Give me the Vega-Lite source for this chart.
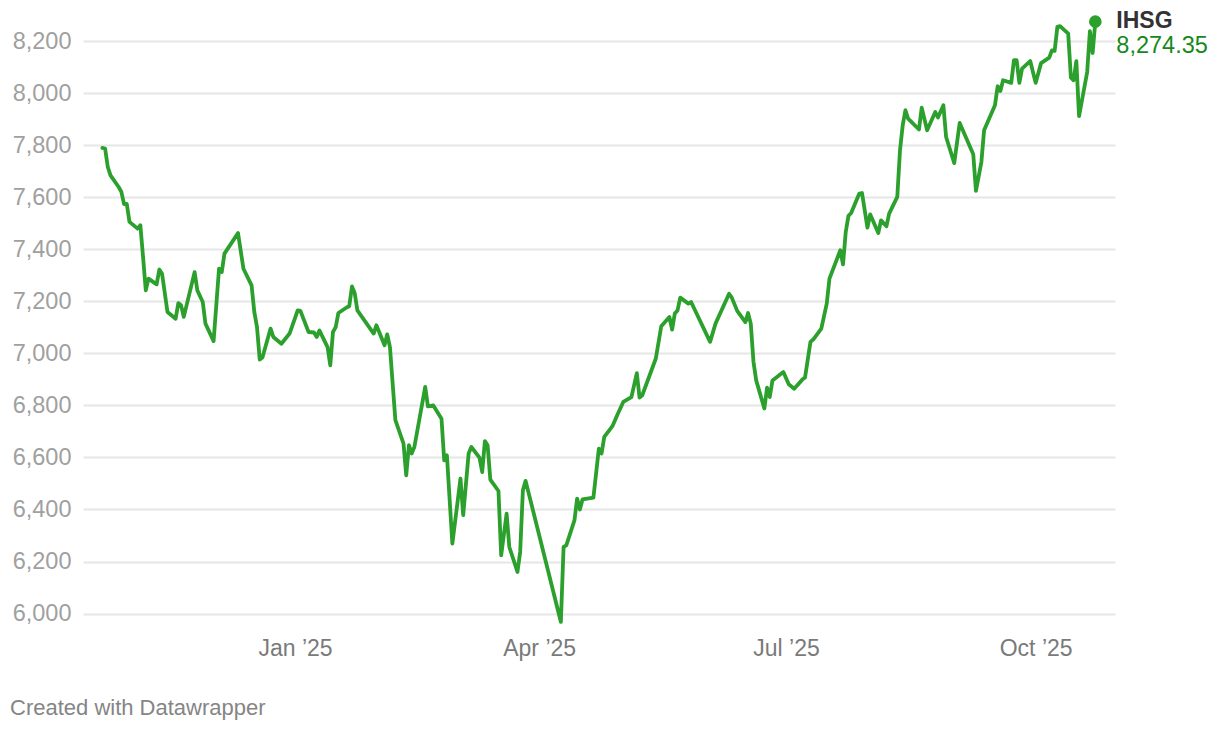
{
  "$schema": "https://vega.github.io/schema/vega-lite/v6.json",
  "autosize": "none",
  "width": 1032,
  "height": 572.6,
  "padding": {"left": 83, "top": 41, "right": 105, "bottom": 116.4},
  "background": "white",
  "config": {"view": {"stroke": null}, "font": "Liberation Sans"},
  "title": {"text": "Created with Datawrapper", "orient": "bottom", "anchor": "start", "frame": "group", "dx": -73, "offset": 54, "fontSize": 22, "fontWeight": "normal", "color": "#858585", "font": "Liberation Sans", "baseline": "alphabetic"},
  "datasets": {
    "ihsg": [
      {"date":"2024-10-22","value":7789},{"date":"2024-10-23","value":7787},{"date":"2024-10-24","value":7716},{"date":"2024-10-25","value":7684},{"date":"2024-10-28","value":7639},{"date":"2024-10-29","value":7620},{"date":"2024-10-30","value":7573},{"date":"2024-10-31","value":7574},{"date":"2024-11-01","value":7505},{"date":"2024-11-04","value":7479},{"date":"2024-11-05","value":7492},{"date":"2024-11-06","value":7370},{"date":"2024-11-07","value":7242},{"date":"2024-11-08","value":7287},{"date":"2024-11-11","value":7265},{"date":"2024-11-12","value":7322},{"date":"2024-11-13","value":7306},{"date":"2024-11-15","value":7159},{"date":"2024-11-18","value":7133},{"date":"2024-11-19","value":7193},{"date":"2024-11-20","value":7185},{"date":"2024-11-21","value":7140},{"date":"2024-11-25","value":7312},{"date":"2024-11-26","value":7242},{"date":"2024-11-28","value":7197},{"date":"2024-11-29","value":7114},{"date":"2024-12-02","value":7047},{"date":"2024-12-04","value":7325},{"date":"2024-12-05","value":7312},{"date":"2024-12-06","value":7383},{"date":"2024-12-11","value":7462},{"date":"2024-12-13","value":7325},{"date":"2024-12-16","value":7261},{"date":"2024-12-17","value":7159},{"date":"2024-12-18","value":7101},{"date":"2024-12-19","value":6976},{"date":"2024-12-20","value":6984},{"date":"2024-12-23","value":7095},{"date":"2024-12-24","value":7063},{"date":"2024-12-27","value":7037},{"date":"2024-12-30","value":7076},
      {"date":"2025-01-02","value":7165},{"date":"2025-01-03","value":7163},{"date":"2025-01-06","value":7082},{"date":"2025-01-08","value":7080},{"date":"2025-01-09","value":7063},{"date":"2025-01-10","value":7088},{"date":"2025-01-13","value":7024},{"date":"2025-01-14","value":6954},{"date":"2025-01-15","value":7082},{"date":"2025-01-16","value":7101},{"date":"2025-01-17","value":7155},{"date":"2025-01-20","value":7176},{"date":"2025-01-21","value":7181},{"date":"2025-01-22","value":7257},{"date":"2025-01-23","value":7232},{"date":"2025-01-24","value":7165},{"date":"2025-01-30","value":7076},{"date":"2025-01-31","value":7108},{"date":"2025-02-03","value":7031},{"date":"2025-02-04","value":7073},{"date":"2025-02-05","value":7024},{"date":"2025-02-07","value":6743},{"date":"2025-02-10","value":6653},{"date":"2025-02-11","value":6531},{"date":"2025-02-12","value":6647},{"date":"2025-02-13","value":6615},{"date":"2025-02-14","value":6640},{"date":"2025-02-18","value":6871},{"date":"2025-02-19","value":6796},{"date":"2025-02-21","value":6800},{"date":"2025-02-24","value":6749},{"date":"2025-02-25","value":6589},{"date":"2025-02-26","value":6608},{"date":"2025-02-28","value":6269},
      {"date":"2025-03-03","value":6519},{"date":"2025-03-04","value":6378},{"date":"2025-03-06","value":6615},{"date":"2025-03-07","value":6640},{"date":"2025-03-10","value":6599},{"date":"2025-03-11","value":6544},{"date":"2025-03-12","value":6663},{"date":"2025-03-13","value":6647},{"date":"2025-03-14","value":6515},{"date":"2025-03-17","value":6471},{"date":"2025-03-18","value":6224},{"date":"2025-03-20","value":6384},{"date":"2025-03-21","value":6256},{"date":"2025-03-24","value":6160},{"date":"2025-03-25","value":6237},{"date":"2025-03-26","value":6474},{"date":"2025-03-27","value":6510},{"date":"2025-04-09","value":5968},{"date":"2025-04-10","value":6256},{"date":"2025-04-11","value":6262},{"date":"2025-04-14","value":6358},{"date":"2025-04-15","value":6442},{"date":"2025-04-16","value":6400},{"date":"2025-04-17","value":6439},{"date":"2025-04-21","value":6446},{"date":"2025-04-23","value":6634},{"date":"2025-04-24","value":6615},{"date":"2025-04-25","value":6679},{"date":"2025-04-28","value":6720},{"date":"2025-04-30","value":6768},
      {"date":"2025-05-02","value":6813},{"date":"2025-05-05","value":6832},{"date":"2025-05-07","value":6924},{"date":"2025-05-08","value":6830},{"date":"2025-05-09","value":6839},{"date":"2025-05-14","value":6980},{"date":"2025-05-16","value":7104},{"date":"2025-05-19","value":7140},{"date":"2025-05-20","value":7091},{"date":"2025-05-21","value":7153},{"date":"2025-05-22","value":7165},{"date":"2025-05-23","value":7214},{"date":"2025-05-26","value":7191},{"date":"2025-05-27","value":7197},{"date":"2025-06-03","value":7044},{"date":"2025-06-05","value":7114},{"date":"2025-06-10","value":7229},{"date":"2025-06-11","value":7214},{"date":"2025-06-13","value":7163},{"date":"2025-06-16","value":7120},{"date":"2025-06-17","value":7155},{"date":"2025-06-18","value":7114},{"date":"2025-06-19","value":6967},{"date":"2025-06-20","value":6896},{"date":"2025-06-23","value":6788},{"date":"2025-06-24","value":6868},{"date":"2025-06-25","value":6832},{"date":"2025-06-26","value":6896},{"date":"2025-06-30","value":6928},
      {"date":"2025-07-02","value":6881},{"date":"2025-07-04","value":6864},{"date":"2025-07-07","value":6899},{"date":"2025-07-08","value":6907},{"date":"2025-07-10","value":7044},{"date":"2025-07-11","value":7053},{"date":"2025-07-14","value":7095},{"date":"2025-07-16","value":7191},{"date":"2025-07-17","value":7287},{"date":"2025-07-21","value":7396},{"date":"2025-07-22","value":7342},{"date":"2025-07-23","value":7466},{"date":"2025-07-24","value":7528},{"date":"2025-07-25","value":7539},{"date":"2025-07-28","value":7614},{"date":"2025-07-29","value":7616},{"date":"2025-07-31","value":7483},{"date":"2025-08-01","value":7534},{"date":"2025-08-04","value":7462},{"date":"2025-08-05","value":7511},{"date":"2025-08-07","value":7488},{"date":"2025-08-08","value":7537},{"date":"2025-08-11","value":7601},{"date":"2025-08-12","value":7780},{"date":"2025-08-13","value":7876},{"date":"2025-08-14","value":7934},{"date":"2025-08-15","value":7902},{"date":"2025-08-19","value":7860},{"date":"2025-08-20","value":7944},{"date":"2025-08-22","value":7857},{"date":"2025-08-25","value":7927},{"date":"2025-08-26","value":7906},{"date":"2025-08-28","value":7953},{"date":"2025-08-29","value":7831},
      {"date":"2025-09-01","value":7731},{"date":"2025-09-03","value":7885},{"date":"2025-09-08","value":7765},{"date":"2025-09-09","value":7624},{"date":"2025-09-11","value":7735},{"date":"2025-09-12","value":7857},{"date":"2025-09-16","value":7953},{"date":"2025-09-17","value":8026},{"date":"2025-09-18","value":8008},{"date":"2025-09-19","value":8049},{"date":"2025-09-22","value":8039},{"date":"2025-09-23","value":8126},{"date":"2025-09-24","value":8126},{"date":"2025-09-25","value":8039},{"date":"2025-09-26","value":8094},{"date":"2025-09-29","value":8123},{"date":"2025-10-01","value":8039},{"date":"2025-10-03","value":8115},{"date":"2025-10-06","value":8136},{"date":"2025-10-07","value":8164},{"date":"2025-10-08","value":8162},{"date":"2025-10-09","value":8254},{"date":"2025-10-10","value":8257},{"date":"2025-10-13","value":8228},{"date":"2025-10-14","value":8059},{"date":"2025-10-15","value":8049},{"date":"2025-10-16","value":8123},{"date":"2025-10-17","value":7911},{"date":"2025-10-20","value":8081},{"date":"2025-10-21","value":8238},{"date":"2025-10-22","value":8154},{"date":"2025-10-23","value":8274.35}
    ],
    "last": [{"date":"2025-10-23","value":8274.35,"name":"IHSG","label":"8,274.35"}]
  },
  "encoding": {
    "x": {"field": "date", "type": "temporal",
      "scale": {"type": "utc", "domain": [1728938304000, 1761804000000]},
      "axis": {"title": null, "values": [1735689600000, 1743465600000, 1751328000000, 1759276800000], "labelExpr": "utcFormat(datum.value, '%b ’%y')", "grid": false, "ticks": false, "tickSize": 0, "domain": false, "labelFontSize": 23, "labelColor": "#7a7a7a", "labelFont": "Liberation Sans", "labelBaseline": "alphabetic", "labelPadding": 42, "labelAlign": "center"}},
    "y": {"field": "value", "type": "quantitative",
      "scale": {"domain": [6000, 8200], "zero": false, "nice": false},
      "axis": {"title": null, "values": [6000, 6200, 6400, 6600, 6800, 7000, 7200, 7400, 7600, 7800, 8000, 8200], "format": ",d", "grid": true, "gridColor": "#e6e6e6", "gridWidth": 2, "ticks": false, "tickSize": 0, "domain": false, "labelFontSize": 23.5, "labelColor": "#a0a0a0", "labelFont": "Liberation Sans", "labelPadding": 12}}
  },
  "layer": [
    {"data": {"name": "ihsg"}, "mark": {"type": "line", "color": "#2ca02c", "strokeWidth": 3.8, "strokeJoin": "round", "strokeCap": "round", "clip": false}},
    {"data": {"name": "last"}, "mark": {"type": "point", "filled": true, "opacity": 1, "size": 160, "color": "#2ca02c", "shape": "circle"}},
    {"data": {"name": "last"}, "mark": {"type": "text", "align": "left", "baseline": "alphabetic", "dx": 21, "dy": 6, "fontSize": 23, "fontWeight": "bold", "color": "#333333", "font": "Liberation Sans"}, "encoding": {"text": {"field": "name"}}},
    {"data": {"name": "last"}, "mark": {"type": "text", "align": "left", "baseline": "alphabetic", "dx": 21, "dy": 31, "fontSize": 23.5, "color": "#15891c", "font": "Liberation Sans"}, "encoding": {"text": {"field": "label"}}}
  ]
}
